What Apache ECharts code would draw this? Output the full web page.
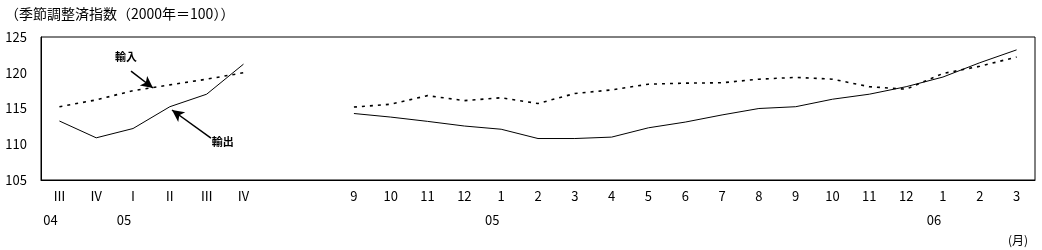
<!DOCTYPE html>
<html>
<head>
<meta charset="utf-8">
<script src="https://cdn.jsdelivr.net/npm/echarts@6/dist/echarts.min.js"></script>
<style>html,body{margin:0;padding:0;background:#fff;}#c{width:1042px;height:250px;}</style>
</head>
<body>
<div id="c"></div>
<script>
var categories = ['Ⅲ','Ⅳ','Ⅰ','Ⅱ','Ⅲ','Ⅳ','','','9','10','11','12','1','2','3','4','5','6','7','8','9','10','11','12','1','2','3'];
var yearLabels = ['04','','05','','','','','','','','','','05','','','','','','','','','','','','06','',''];
var exportsIdx = [113.25,110.9,112.2,115.25,117.0,121.2,null,null,114.3,113.8,113.2,112.55,112.1,110.8,110.8,111.0,112.3,113.1,114.1,115.0,115.25,116.3,117.0,118.05,119.4,121.4,123.2];
var importsIdx = [115.25,116.2,117.5,118.3,119.1,120.0,null,null,115.2,115.6,116.8,116.1,116.5,115.7,117.1,117.6,118.4,118.55,118.6,119.1,119.35,119.1,118.05,117.7,119.9,120.9,122.2];
var yTicks = {min:105, max:125, interval:5};
var titleText = '（季節調整済指数（2000年＝100））';
var unitText = '(月)';
var annoImport = {name:'輸入', text:[1.81,122.2], from:[1.945,120.24], to:[2.542,117.87]};
var annoExport = {name:'輸出', text:[4.44,110.3], from:[4.118,110.87], to:[3.058,114.79]};

var font = '"Noto Sans CJK JP","Noto Sans",sans-serif';
var chart = echarts.init(document.getElementById('c'));
chart.setOption({
  animation:false,
  backgroundColor:'#fff',
  title:[
    {text:titleText, left:0, top:2, textStyle:{fontSize:14, fontWeight:'normal', color:'#000', fontFamily:font}},
    {text:unitText, left:1003, top:229, textStyle:{fontSize:12, fontWeight:'normal', color:'#000', fontFamily:font}}
  ],
  grid:{left:41, right:7, top:37, bottom:70, show:true, borderColor:'#000', borderWidth:1},
  xAxis:[
    {type:'category', data:categories, boundaryGap:true,
     axisLine:{show:true, lineStyle:{color:'#000'}}, axisTick:{show:false},
     axisLabel:{interval:0, color:'#000', fontSize:13, margin:10, fontFamily:font}},
    {type:'value', show:false, min:-0.5, max:26.5, splitLine:{show:false}},
    {type:'category', data:yearLabels, boundaryGap:true, position:'bottom', offset:24,
     axisLine:{show:false}, axisTick:{show:false},
     axisLabel:{interval:0, color:'#000', fontSize:13, margin:10, padding:[0,18,0,0], fontFamily:font}}
  ],
  yAxis:[{type:'value', min:yTicks.min, max:yTicks.max, interval:yTicks.interval,
    axisLine:{show:true, onZero:false, lineStyle:{color:'#000'}}, axisTick:{show:false}, splitLine:{show:false},
    axisLabel:{color:'#000', fontSize:13, margin:14, fontFamily:font}}],
  series:[
    {name:'輸出', type:'line', data:exportsIdx, xAxisIndex:0, symbol:'none', connectNulls:false,
     lineStyle:{color:'#000', width:1}},
    {name:'輸入', type:'line', data:importsIdx, xAxisIndex:0, symbol:'none', connectNulls:false,
     lineStyle:{color:'#000', width:1.6, type:[3,5]}},
    {name:'anno', type:'line', xAxisIndex:1, data:[], symbol:'none',
     markLine:{silent:true, symbol:['none','arrow'], symbolSize:[9,12], animation:false,
       label:{show:false}, lineStyle:{color:'#000', width:1.5, type:'solid'},
       data:[
         [{coord:annoImport.from},{coord:annoImport.to}],
         [{coord:annoExport.from},{coord:annoExport.to}]
       ]},
     markPoint:{silent:true, symbol:'circle', symbolSize:1, itemStyle:{color:'rgba(0,0,0,0)'},
       label:{show:true, position:'inside', formatter:'{b}', color:'#000', fontSize:11, fontWeight:'bold', fontFamily:font},
       data:[
         {name:annoImport.name, coord:annoImport.text},
         {name:annoExport.name, coord:annoExport.text}
       ]}
    }
  ]
});
</script>
</body>
</html>
